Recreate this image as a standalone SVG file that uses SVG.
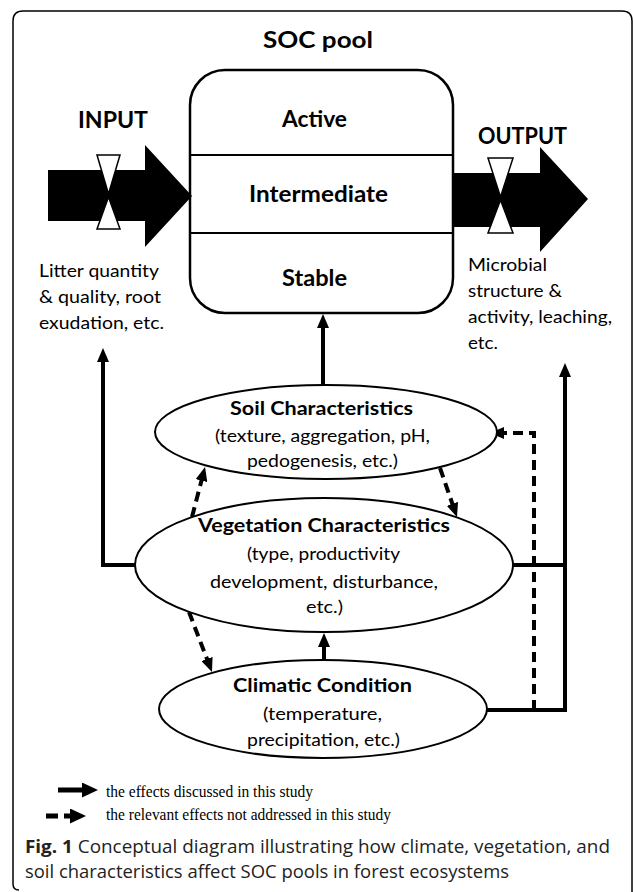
<svg xmlns="http://www.w3.org/2000/svg" width="633" height="892" viewBox="0 0 633 892">
<defs>
<style>
.lbl{font-family:Lato,"Open Sans","Liberation Sans",sans-serif;fill:#000}
.ttl{font-size:22px;font-weight:bold}
.pool{font-size:22px;font-weight:bold}
.cap{font-size:18px}
.hd{font-size:19.5px;font-weight:bold}
.sub{font-size:18px}
.leg{font-family:"Liberation Serif","Times New Roman",serif;font-size:16px;fill:#000}
.fig{font-family:"Open Sans","Liberation Sans",sans-serif;font-size:18.5px;fill:#222}
.node{fill:#fff;stroke:#000;stroke-width:2}
.solid{fill:none;stroke:#000;stroke-width:4}
.dash{fill:none;stroke:#000;stroke-width:4;stroke-dasharray:10 6}
.valve{fill:#fff;stroke:#000;stroke-width:1.5}
</style>
<marker id="ah" viewBox="0 0 14 12" refX="4" refY="6" markerWidth="14" markerHeight="12" markerUnits="userSpaceOnUse" orient="auto">
<path d="M0,0 L14,6 L0,12 z" fill="#000"/>
</marker>
<marker id="ahL" viewBox="0 0 16 15" refX="2" refY="7.5" markerWidth="16" markerHeight="15" markerUnits="userSpaceOnUse" orient="auto">
<path d="M0,0 L16,7.5 L0,15 z" fill="#000"/>
</marker>
</defs>
<rect width="633" height="892" fill="#fff"/>
<path d="M13,884 V21 Q13,11 23,11 H622 Q632,11 632,21 V892" fill="none" stroke="#000" stroke-width="1.5"/>
<path d="M13,884 Q13,890 19,890" fill="none" stroke="#000" stroke-width="1.5"/>

<g id="soc-pool">
<text class="lbl ttl" x="318" y="48" text-anchor="middle" textLength="110" lengthAdjust="spacingAndGlyphs">SOC pool</text>
<rect x="190" y="70" width="263" height="243" rx="35" ry="35" fill="#fff" stroke="#000" stroke-width="2.5"/>
<line x1="190" y1="155" x2="453" y2="155" stroke="#000" stroke-width="2"/>
<line x1="190" y1="233" x2="453" y2="233" stroke="#000" stroke-width="2"/>
<text class="lbl pool" x="314.5" y="127" text-anchor="middle" textLength="65" lengthAdjust="spacingAndGlyphs">Active</text>
<text class="lbl pool" x="318.5" y="202" text-anchor="middle" textLength="139" lengthAdjust="spacingAndGlyphs">Intermediate</text>
<text class="lbl pool" x="314.5" y="286" text-anchor="middle" textLength="65" lengthAdjust="spacingAndGlyphs">Stable</text>
</g>

<g id="input">
<text class="lbl ttl" x="113" y="128" text-anchor="middle" textLength="70" lengthAdjust="spacingAndGlyphs">INPUT</text>
<polygon points="48,170 145,170 145,145 192,196 145,247 145,221 48,221" fill="#000"/>
<polygon class="valve" points="97,155 120,155 108.5,194"/>
<polygon class="valve" points="97,229 120,229 108.5,197"/>
<text class="lbl cap" x="39" y="277" textLength="120" lengthAdjust="spacingAndGlyphs">Litter quantity</text>
<text class="lbl cap" x="39" y="303" textLength="122" lengthAdjust="spacingAndGlyphs">&amp; quality, root</text>
<text class="lbl cap" x="39" y="329" textLength="125" lengthAdjust="spacingAndGlyphs">exudation, etc.</text>
</g>

<g id="output">
<text class="lbl ttl" x="522.5" y="144" text-anchor="middle" textLength="89" lengthAdjust="spacingAndGlyphs" style="font-size:23px">OUTPUT</text>
<polygon points="453,173 540,173 540,147 588,199 540,252 540,227 453,227" fill="#000"/>
<polygon class="valve" points="488,158 513,158 500.5,197"/>
<polygon class="valve" points="488,233 513,233 500.5,200"/>
<text class="lbl cap" x="468" y="271" textLength="79" lengthAdjust="spacingAndGlyphs">Microbial</text>
<text class="lbl cap" x="468" y="297" textLength="94" lengthAdjust="spacingAndGlyphs">structure &amp;</text>
<text class="lbl cap" x="468" y="323" textLength="144" lengthAdjust="spacingAndGlyphs">activity, leaching,</text>
<text class="lbl cap" x="468" y="349" textLength="30" lengthAdjust="spacingAndGlyphs">etc.</text>
</g>

<g id="connectors">
<path class="solid" d="M323,385 V324" marker-end="url(#ah)"/>
<path class="solid" d="M135,565 H103 V358" marker-end="url(#ah)"/>
<path class="solid" d="M487,710 H565 V373" marker-end="url(#ah)"/>
<path class="solid" d="M513,565 H565"/>
<path class="solid" d="M324,660 V643" marker-end="url(#ah)"/>
<path class="dash" d="M534,710 V433 H500" marker-end="url(#ah)"/>
<path class="dash" d="M192,517 L202.5,476.7" marker-end="url(#ah)"/>
<path class="dash" d="M440,468 L453.7,507.6" marker-end="url(#ah)"/>
<path class="dash" d="M189,612 L208.4,662.7" marker-end="url(#ah)"/>
</g>

<g id="soil">
<ellipse class="node" cx="326" cy="432" rx="171" ry="47"/>
<text class="lbl hd" x="321.5" y="415" text-anchor="middle" textLength="183" lengthAdjust="spacingAndGlyphs">Soil Characteristics</text>
<text class="lbl sub" x="322.5" y="442" text-anchor="middle" textLength="215" lengthAdjust="spacingAndGlyphs">(texture, aggregation, pH,</text>
<text class="lbl sub" x="322.5" y="467" text-anchor="middle" textLength="151" lengthAdjust="spacingAndGlyphs">pedogenesis, etc.)</text>
</g>

<g id="vegetation">
<ellipse class="node" cx="324" cy="565" rx="189" ry="67"/>
<text class="lbl hd" x="324" y="532" text-anchor="middle" textLength="252" lengthAdjust="spacingAndGlyphs">Vegetation Characteristics</text>
<text class="lbl sub" x="323.5" y="560" text-anchor="middle" textLength="153" lengthAdjust="spacingAndGlyphs">(type, productivity</text>
<text class="lbl sub" x="324" y="588" text-anchor="middle" textLength="228" lengthAdjust="spacingAndGlyphs">development, disturbance,</text>
<text class="lbl sub" x="324.5" y="613" text-anchor="middle" textLength="37" lengthAdjust="spacingAndGlyphs">etc.)</text>
</g>

<g id="climatic">
<ellipse class="node" cx="323" cy="709" rx="164" ry="49"/>
<text class="lbl hd" x="322.5" y="692" text-anchor="middle" textLength="179" lengthAdjust="spacingAndGlyphs">Climatic Condition</text>
<text class="lbl sub" x="322.5" y="720" text-anchor="middle" textLength="119" lengthAdjust="spacingAndGlyphs">(temperature,</text>
<text class="lbl sub" x="323.5" y="746" text-anchor="middle" textLength="153" lengthAdjust="spacingAndGlyphs">precipitation, etc.)</text>
</g>

<g id="legend">
<path d="M58,790 H84" stroke="#000" stroke-width="5" fill="none" marker-end="url(#ahL)"/>
<text class="leg" x="106" y="797" textLength="207" lengthAdjust="spacingAndGlyphs">the effects discussed in this study</text>
<path d="M46,816 H58" stroke="#000" stroke-width="5"/>
<path d="M64,816 H72" stroke="#000" stroke-width="5" fill="none" marker-end="url(#ahL)"/>
<text class="leg" x="106" y="820" textLength="285" lengthAdjust="spacingAndGlyphs">the relevant effects not addressed in this study</text>
</g>

<g id="caption">
<text class="fig" x="25" y="853" textLength="585" lengthAdjust="spacingAndGlyphs"><tspan font-weight="bold">Fig. 1</tspan> Conceptual diagram illustrating how climate, vegetation, and</text>
<text class="fig" x="25" y="878" textLength="484" lengthAdjust="spacingAndGlyphs">soil characteristics affect SOC pools in forest ecosystems</text>
</g>
</svg>
